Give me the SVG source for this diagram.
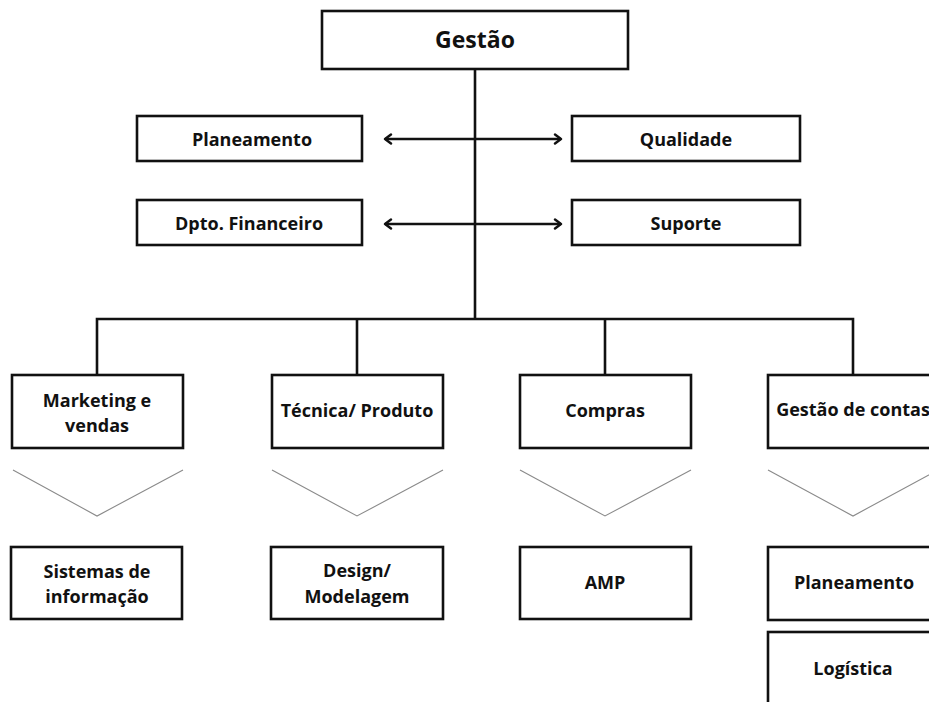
<svg xmlns="http://www.w3.org/2000/svg" width="929" height="702" viewBox="0 0 929 702">
<style>
.box{fill:#fff;stroke:#111;stroke-width:2.6}
.t{font-family:"Open Sans","Liberation Sans",sans-serif;font-weight:700;font-size:18px;fill:#111;text-anchor:middle}
.title{font-size:23px}
.ln{fill:none;stroke:#111;stroke-width:2.6}
.tri{fill:none;stroke:#8a8a8a;stroke-width:1.1}
</style>
<defs>
<marker id="ah" markerWidth="12" markerHeight="12" refX="9" refY="6" orient="auto-start-reverse" markerUnits="userSpaceOnUse">
<path d="M3,1.5 L9,6 L3,10.5" fill="none" stroke="#111" stroke-width="2.4" stroke-linecap="round" stroke-linejoin="round"/>
</marker>
</defs>
<rect width="929" height="702" fill="#fff"/>
<g id="connectors">
<line class="ln" x1="475" y1="69" x2="475" y2="319"/>
<polyline class="ln" points="97,375 97,319 853,319 853,375"/>
<line class="ln" x1="357" y1="319" x2="357" y2="375"/>
<line class="ln" x1="605" y1="319" x2="605" y2="375"/>
<line class="ln" x1="385" y1="139" x2="561" y2="139" marker-start="url(#ah)" marker-end="url(#ah)"/>
<line class="ln" x1="385" y1="224" x2="561" y2="224" marker-start="url(#ah)" marker-end="url(#ah)"/>
<polyline class="tri" points="13,470 97,516 183,470"/>
<polyline class="tri" points="272,470 357,516 443,470"/>
<polyline class="tri" points="520,470 605,516 691,470"/>
<polyline class="tri" points="768,470 853,516 938,470"/>
</g>
<g id="gestao"><rect class="box" x="322" y="11" width="306" height="58"/><text class="t title" x="475" y="48">Gestão</text></g>
<g id="planeamento"><rect class="box" x="137" y="116" width="225" height="45"/><text class="t" x="252" y="146">Planeamento</text></g>
<g id="qualidade"><rect class="box" x="572" y="116" width="228" height="45"/><text class="t" x="686" y="146">Qualidade</text></g>
<g id="financeiro"><rect class="box" x="137" y="200" width="225" height="45"/><text class="t" x="249" y="230">Dpto. Financeiro</text></g>
<g id="suporte"><rect class="box" x="572" y="200" width="228" height="45"/><text class="t" x="686" y="230">Suporte</text></g>
<g id="marketing"><rect class="box" x="12" y="375" width="171" height="73"/><text class="t" x="97" y="407">Marketing e</text><text class="t" x="97" y="432">vendas</text></g>
<g id="tecnica"><rect class="box" x="272" y="375" width="171" height="73"/><text class="t" x="357" y="417">Técnica/ Produto</text></g>
<g id="compras"><rect class="box" x="520" y="375" width="171" height="73"/><text class="t" x="605" y="417">Compras</text></g>
<g id="contas"><rect class="box" x="768" y="375" width="171" height="73"/><text class="t" x="853" y="416">Gestão de contas</text></g>
<g id="sistemas"><rect class="box" x="11" y="547" width="171" height="72"/><text class="t" x="97" y="578">Sistemas de</text><text class="t" x="97" y="603">informação</text></g>
<g id="design"><rect class="box" x="271" y="547" width="172" height="72"/><text class="t" x="357" y="577">Design/</text><text class="t" x="357" y="603">Modelagem</text></g>
<g id="amp"><rect class="box" x="520" y="547" width="171" height="72"/><text class="t" x="605" y="589">AMP</text></g>
<g id="planeamento2"><rect class="box" x="768" y="547" width="171" height="73"/><text class="t" x="854" y="589">Planeamento</text></g>
<g id="logistica"><rect class="box" x="768" y="632" width="171" height="80"/><text class="t" x="853" y="675">Logística</text></g>
</svg>
